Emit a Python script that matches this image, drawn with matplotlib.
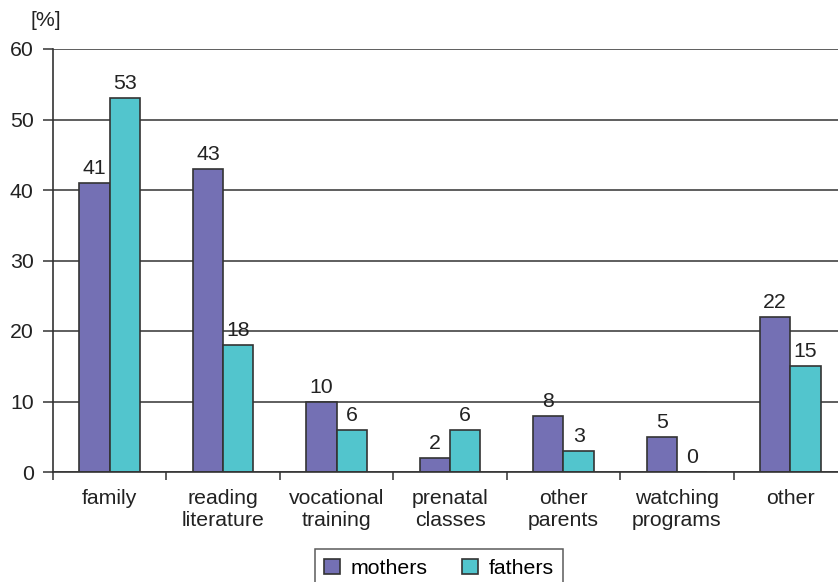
import matplotlib
matplotlib.use("Agg")
import matplotlib.pyplot as plt
import numpy as np

categories = ["family", "reading\nliterature", "vocational\ntraining", "prenatal\nclasses",
              "other\nparents", "watching\nprograms", "other"]
mothers = [41, 43, 10, 2, 8, 5, 22]
fathers = [53, 18, 6, 6, 3, 0, 15]
yticks = [0, 10, 20, 30, 40, 50, 60]

plt.rcParams['font.family'] = ['Liberation Sans', 'DejaVu Sans']
FS = 15.3

W, H = 838, 582
fig = plt.figure(figsize=(W / 100, H / 100), dpi=100)
ax = fig.add_axes([53 / W, 1 - 472 / H, (847 - 53) / W, (472 - 49) / H])

x = np.arange(len(categories))
bw = 0.267
c_m = "#7470B4"
c_f = "#52C5CD"
edge = "#333333"
ax.set_axisbelow(True)
bm = ax.bar(x - bw / 2, mothers, bw, color=c_m, edgecolor=edge, linewidth=1.2, label="mothers")
bf = ax.bar(x + bw / 2, fathers, bw, color=c_f, edgecolor=edge, linewidth=1.2, label="fathers")

for rects, vals in ((bm, mothers), (bf, fathers)):
    for r, v in zip(rects, vals):
        ax.text(r.get_x() + r.get_width() / 2, v + 0.7, str(v), ha="center", va="bottom",
                fontsize=FS, color="#222222")

ax.set_xlim(-0.5, len(categories) - 0.5)
ax.set_ylim(0, 60)
ax.set_yticks(yticks)
ax.set_yticklabels([str(t) for t in yticks], fontsize=FS, color="#222222")
ax.yaxis.grid(True, color="#333333", linewidth=1.1)
ax.set_xticks(np.arange(len(categories) + 1) - 0.5)
ax.set_xticklabels([])
ax.set_xticks(x, minor=True)
ax.set_xticklabels(categories, minor=True, fontsize=FS, color="#222222", linespacing=1.25)
ax.tick_params(axis="x", which="minor", length=0, pad=12)
ax.tick_params(axis="x", which="major", direction="out", length=6, width=1.1, color="#333333")
ax.tick_params(axis="y", direction="out", length=7, width=1.1, color="#333333", pad=7)

for s in ("top", "right"):
    ax.spines[s].set_visible(False)
ax.spines["left"].set_color("#333333")
ax.spines["left"].set_linewidth(1.2)
ax.spines["bottom"].set_color("#333333")
ax.spines["bottom"].set_linewidth(1.2)

fig.text(46 / W, 1 - 20 / H, "[%]", ha="center", va="center", fontsize=FS, color="#222222")

leg = fig.legend(handles=[bm, bf], labels=["mothers", "fathers"], loc="upper center",
                 bbox_to_anchor=(439 / W, 1 - 549 / H), ncol=2, fontsize=FS, frameon=True,
                 fancybox=False, edgecolor="#333333", handlelength=0.75, handleheight=0.75,
                 columnspacing=1.6, handletextpad=0.5, borderpad=0.45, borderaxespad=0)
leg.get_frame().set_linewidth(1.1)

fig.savefig("out.png", dpi=100)
